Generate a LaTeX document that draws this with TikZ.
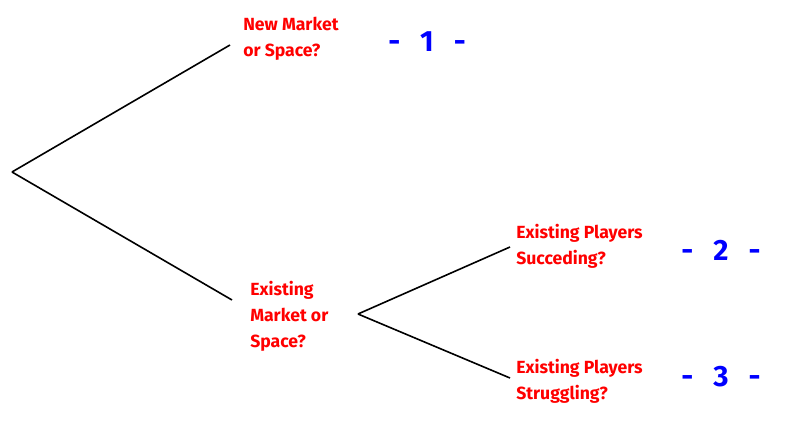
\documentclass[tikz,border=0pt]{standalone}
\usepackage{fontspec}
\setmainfont{Fira Sans}
\begin{document}
\begin{tikzpicture}[x=0.75pt,y=-0.75pt,
  lbl/.style={anchor=west,align=left,text=red,font=\fontsize{13.2}{19.5}\selectfont\bfseries,inner sep=0pt},
  num/.style={text=blue,font=\fontsize{22}{26}\selectfont\bfseries,inner sep=0pt},
  ln/.style={line width=1.2pt}]
\useasboundingbox[fill=white] (0,0) rectangle (789,432);
\coordinate (root) at (12,172);
\coordinate (a) at (230,45);
\coordinate (b) at (232,300);
\coordinate (m) at (358,314);
\coordinate (c) at (510,247);
\coordinate (d) at (510,378);
\draw[ln] (root) -- (a);
\draw[ln] (root) -- (b);
\draw[ln] (m) -- (c);
\draw[ln] (m) -- (d);
\node[lbl] (t1) at (243,39) {New Market\\or Space?};
\node[lbl] (t2) at (250,316) {Existing\\Market or\\Space?};
\node[lbl] (t3) at (516,246) {Existing Players\\Succeding?};
\node[lbl] (t4) at (516,381) {Existing Players\\Struggling?};
\node[num] (n1) at (427,42) {-\hspace{15pt}1\hspace{15pt}-};
\node[num] (n2) at (721,250) {-\hspace{15pt}2\hspace{15pt}-};
\node[num] (n3) at (721,377) {-\hspace{15pt}3\hspace{15pt}-};
\end{tikzpicture}
\end{document}
